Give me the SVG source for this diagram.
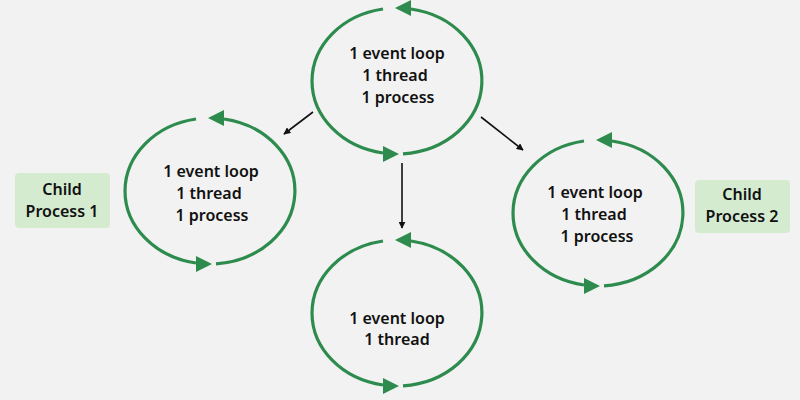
<svg xmlns="http://www.w3.org/2000/svg" width="800" height="400" viewBox="0 0 800 400">
<style>
.arc{fill:none;stroke:#2e8b4e;stroke-width:3.2}
.ah{fill:#2e8b4e}
.t{font-family:"Noto Sans","Open Sans",sans-serif;font-size:16px;font-weight:600;fill:#111;text-anchor:middle}
.con{stroke:#111;stroke-width:1.6;fill:none;marker-end:url(#a)}
.box{fill:#d4ebd0}
</style>
<defs>
<marker id="a" viewBox="0 0 10 10" refX="9" refY="5" markerWidth="7" markerHeight="7" orient="auto" markerUnits="userSpaceOnUse"><path d="M0,0L10,5L0,10z" fill="#111"/></marker>
<g id="loop">
<path class="arc" d="M-14,-72 A85,73 0 0 0 -14,72"/>
<path class="arc" d="M6,72.8 A85,73 0 0 0 14,-72"/>
<polygon class="ah" points="-2,-73 14,-81 14,-65"/>
<polygon class="ah" points="2,73 -14,65 -14,81"/>
</g>
</defs>
<rect width="800" height="400" fill="#f2f2f2"/>
<g id="connectors">
<line class="con" x1="313" y1="112" x2="284" y2="134"/>
<line class="con" x1="402" y1="163" x2="402" y2="228"/>
<line class="con" x1="481" y1="117" x2="523" y2="150"/>
</g>
<g id="main"><use href="#loop" x="397" y="81"/>
<text class="t" x="397" y="59">1 event loop</text><text class="t" x="395" y="81">1 thread</text><text class="t" x="398" y="103">1 process</text></g>
<g id="child1"><use href="#loop" x="210" y="191"/>
<text class="t" x="211" y="177">1 event loop</text><text class="t" x="209" y="199">1 thread</text><text class="t" x="212" y="221">1 process</text></g>
<g id="thread"><use href="#loop" x="397" y="313"/>
<text class="t" x="397" y="324">1 event loop</text><text class="t" x="397" y="345">1 thread</text></g>
<g id="child2"><use href="#loop" x="598" y="213"/>
<text class="t" x="595" y="198">1 event loop</text><text class="t" x="594" y="220">1 thread</text><text class="t" x="597" y="242">1 process</text></g>
<g id="label1"><rect class="box" x="15" y="173" width="95" height="55" rx="4"/>
<text class="t" x="62" y="195">Child</text><text class="t" x="62" y="217">Process 1</text></g>
<g id="label2"><rect class="box" x="695" y="180" width="95" height="53" rx="4"/>
<text class="t" x="742" y="200">Child</text><text class="t" x="742" y="222">Process 2</text></g>
</svg>
